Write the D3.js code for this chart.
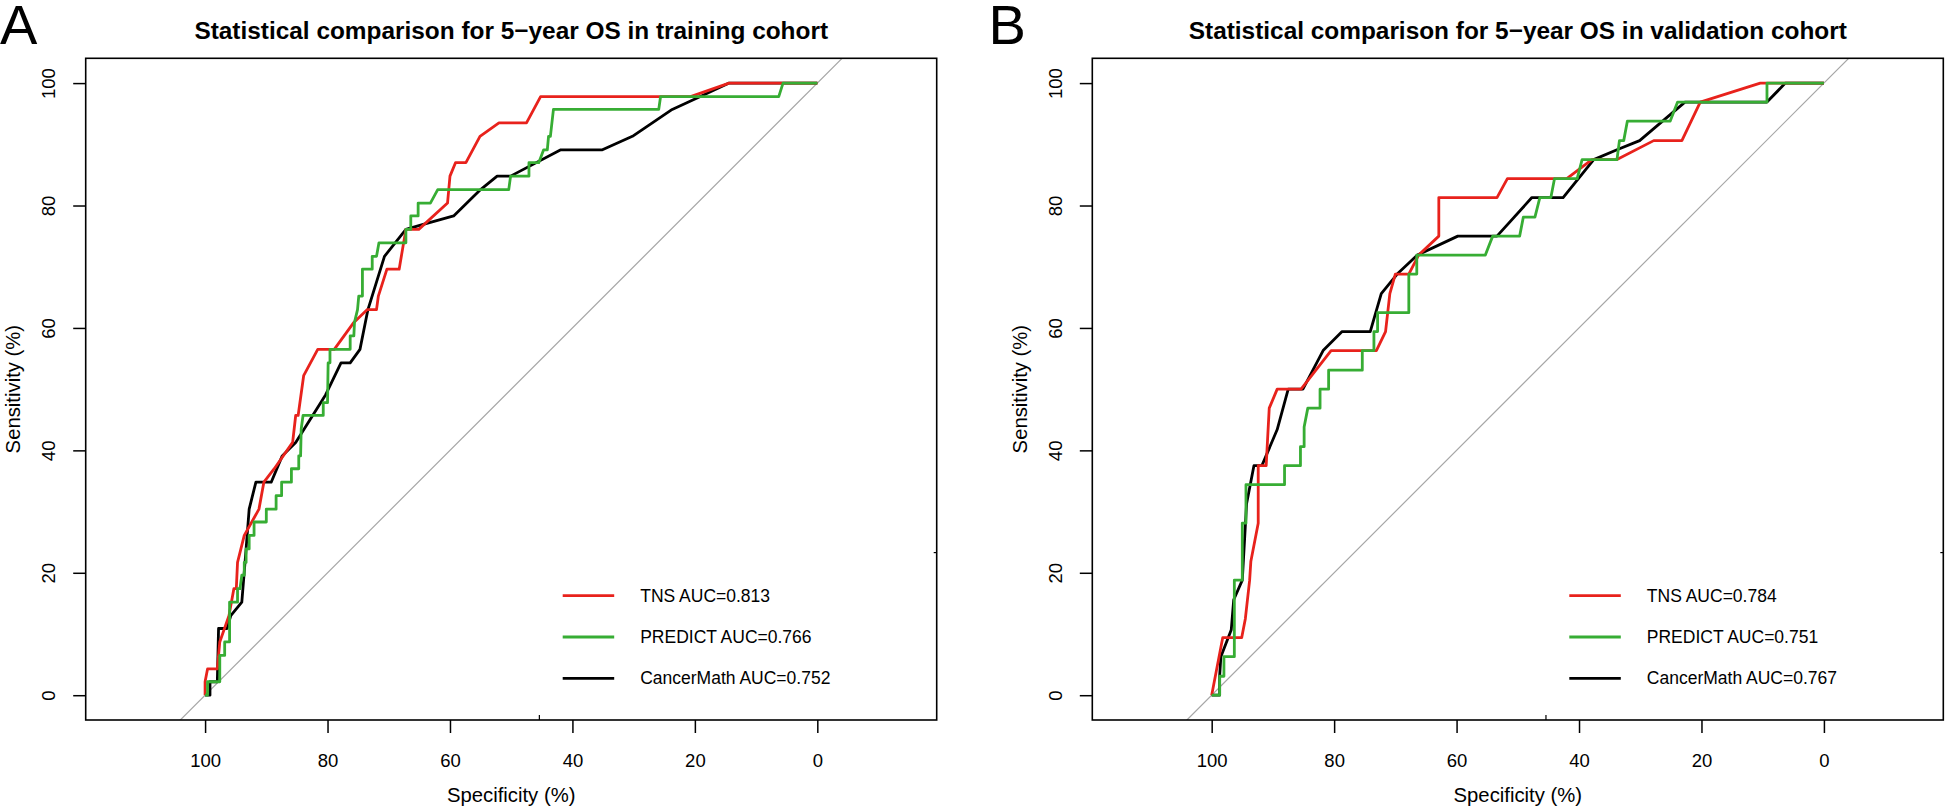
<!DOCTYPE html>
<html>
<head>
<meta charset="utf-8">
<script src="https://cdn.jsdelivr.net/npm/d3@7"></script>
<style>
  body { margin: 0; background: #fff; }
  svg { display: block; font-family: "Liberation Sans", Arial, sans-serif; }
</style>
</head>
<body>
<svg id="chart" width="1946" height="810"></svg>
<script>
// ROC points as [specificity %, sensitivity %]
const trainTNS = [[100,0],[100,2.2],[99.6,4.3],[98.0,4.3],[97.6,8.7],[96.1,13.0],[95.3,17.4],[94.9,17.4],
  [94.7,21.7],[93.6,26.1],[91.2,30.4],[90.4,34.8],[88.7,37.0],[85.7,41.3],[85.2,45.7],[84.8,45.7],
  [83.9,52.2],[81.6,56.5],[78.9,56.5],[75.7,60.9],[73.5,63.0],[72.0,63.0],[71.7,65.2],[70.3,69.6],
  [68.3,69.6],[67.2,76.1],[65.1,76.1],[60.4,80.4],[60.0,84.8],[59.1,87.0],[57.4,87.0],[55.1,91.3],
  [52.0,93.5],[47.5,93.5],[45.2,97.8],[20.7,97.8],[14.4,100],[0,100]];
const trainPREDICT = [[100,0],[99.6,0],[99.6,2.2],[97.6,2.2],[97.6,6.5],[96.8,6.5],[96.8,8.7],[96.0,8.7],
  [96.0,15.2],[94.7,15.2],[94.7,17.4],[94.3,17.4],[94.0,19.6],[93.6,19.6],[93.6,21.7],[93.3,21.7],
  [93.3,23.9],[92.8,23.9],[92.8,26.1],[92.0,26.1],[92.0,28.3],[90.0,28.3],[90.0,30.4],[88.4,30.4],
  [88.4,32.6],[87.5,32.6],[87.5,34.8],[85.9,34.8],[85.9,37.0],[84.7,37.0],[84.7,39.1],[84.4,39.1],
  [84.3,43.5],[84.0,45.7],[80.7,45.7],[80.7,47.8],[80.0,47.8],[79.9,54.3],[79.6,54.3],[79.6,56.5],
  [76.3,56.5],[76.3,58.7],[75.7,58.7],[75.6,60.9],[75.1,63.0],[74.9,65.2],[74.3,65.2],[74.3,69.6],
  [72.7,69.6],[72.7,71.7],[72.0,71.7],[71.6,73.9],[67.2,73.9],[67.2,76.1],[66.4,76.1],[66.4,78.3],
  [65.2,78.3],[65.2,80.4],[63.2,80.4],[62.0,82.6],[50.4,82.6],[50.1,84.8],[47.1,84.8],[47.1,87.0],
  [45.5,87.0],[44.7,89.1],[44.1,89.1],[43.9,91.3],[43.6,91.3],[43.1,95.7],[25.9,95.7],[25.6,97.8],
  [6.3,97.8],[5.6,100],[0,100]];
const trainCancerMath = [[100,0],[99.2,0],[99.2,2.2],[98.0,2.2],[97.8,10.9],[96.4,10.9],[95.8,13.0],
  [94.0,15.2],[93.3,23.9],[92.8,30.4],[91.7,34.8],[89.2,34.8],[87.4,39.1],[85.2,41.3],[80.3,49.1],
  [77.8,54.3],[76.3,54.3],[74.7,56.5],[73.4,63.0],[70.7,71.7],[67.2,76.1],[64.8,76.8],[59.4,78.3],
  [55.0,82.6],[52.3,84.8],[50.1,84.8],[41.9,89.1],[35.1,89.1],[30.2,91.3],[23.7,95.7],[19.1,97.8],
  [14.4,100],[0,100]];

const validTNS = [[100,0],[98.2,9.4],[95.1,9.4],[94.5,12.5],[93.8,18.8],[93.6,21.9],[92.4,28.1],
  [92.4,37.5],[91.1,37.5],[90.6,46.9],[89.3,50],[85.4,50],[80.5,56.3],[73.1,56.3],[71.6,59.4],
  [70.9,65.6],[70.0,68.8],[67.8,68.8],[66.2,71.9],[62.9,75],[62.9,81.3],[53.4,81.3],[51.7,84.4],
  [42.0,84.4],[37.9,87.5],[33.8,87.5],[27.8,90.6],[23.2,90.6],[20.2,96.9],[10.4,100],[0,100]];
const validPREDICT = [[100,0],[98.7,0],[98.7,3.1],[98.0,3.1],[98.0,6.3],[96.3,6.3],[96.3,18.8],
  [95.0,18.8],[95.0,28.1],[94.4,28.1],[94.4,34.4],[88.1,34.4],[88.1,37.5],[85.5,37.5],[85.5,40.6],
  [84.9,40.6],[84.9,43.8],[84.3,46.9],[82.3,46.9],[82.3,50],[80.9,50],[80.9,53.1],[75.4,53.1],
  [75.4,56.3],[73.5,56.3],[73.5,59.4],[72.9,59.4],[72.9,62.5],[67.8,62.5],[67.8,68.8],[66.5,68.8],
  [66.5,71.9],[55.3,71.9],[54.1,75],[49.7,75],[49.1,78.1],[47.2,78.1],[46.4,81.3],[44.6,81.3],
  [44.0,84.4],[40.3,84.4],[39.5,87.5],[33.8,87.5],[33.4,90.6],[32.7,90.6],[32.1,93.8],[25.1,93.8],
  [23.9,96.9],[9.3,96.9],[9.3,100],[0,100]];
const validCancerMath = [[100,0],[98.7,0],[98.7,3.1],[98.5,6.3],[96.8,10.7],[96.4,15.6],[95.0,18.8],
  [94.3,31.3],[93.1,37.5],[91.8,37.5],[89.3,43.4],[87.5,50],[85.1,50],[81.8,56.3],[78.7,59.4],
  [74.1,59.4],[72.3,65.6],[69.7,68.8],[66.4,71.9],[59.8,75],[53.4,75],[47.7,81.3],[42.6,81.3],
  [37.6,87.5],[33.8,89.1],[30.1,90.6],[22.7,96.9],[9.3,96.9],[6.3,100],[0,100]];

const xTicks = [100, 80, 60, 40, 20, 0];
const yTicks = [0, 20, 40, 60, 80, 100];
const modelNames = ["TNS", "PREDICT", "CancerMath"];
const modelColors = ["#e8221c", "#37ad34", "#000000"];
const aucTrain = ["0.813", "0.766", "0.752"];
const aucValid = ["0.784", "0.751", "0.767"];

const panels = [
  {letter: "A", letterX: 0, left: 85.7, title: "Statistical comparison for 5\u2212year OS in training cohort",
   curves: [trainTNS, trainPREDICT, trainCancerMath], auc: aucTrain},
  {letter: "B", letterX: 988.5, left: 1092.3, title: "Statistical comparison for 5\u2212year OS in validation cohort",
   curves: [validTNS, validPREDICT, validCancerMath], auc: aucValid}
];

const svg = d3.select("#chart");
const plotTop = 58.3, plotBottom = 720, boxW = 851;
const tickFont = 18.5, labFont = 20.3, legendFont = 17.5;

function drawPanel(p) {
  let x = d3.scaleLinear().domain([119.5, -19.5]).range([p.left, p.left + boxW]);
  let y = d3.scaleLinear().domain([-4.05, 104.05]).range([plotBottom, plotTop]);
  let g = svg.append("g");
  let cx = p.left + boxW / 2;

  g.append("text").attr("x", p.letterX).attr("y", 43.5)
    .attr("font-size", 56).text(p.letter);
  g.append("text").attr("x", cx).attr("y", 39).attr("text-anchor", "middle")
    .attr("font-size", 24.4).attr("font-weight", "bold").text(p.title);

  // chance diagonal, clipped to the box
  let clipId = "clip" + p.letter;
  g.append("clipPath").attr("id", clipId).append("rect")
    .attr("x", p.left).attr("y", plotTop).attr("width", boxW).attr("height", plotBottom - plotTop);
  let plot = g.append("g").attr("clip-path", `url(#${clipId})`);
  plot.append("line")
    .attr("x1", x(110)).attr("y1", y(-10)).attr("x2", x(-10)).attr("y2", y(110))
    .attr("stroke", "#a6a6a6").attr("stroke-width", 1.2);

  let line = d3.line().x(d => x(d[0])).y(d => y(d[1]));
  // black first, then red, then green on top
  [2, 0, 1].forEach(i => {
    plot.append("path").datum(p.curves[i])
      .attr("d", line).attr("fill", "none")
      .attr("stroke", modelColors[i]).attr("stroke-width", 2.8)
      .attr("stroke-linejoin", "round");
  });

  g.append("rect").attr("x", p.left).attr("y", plotTop).attr("width", boxW).attr("height", plotBottom - plotTop)
    .attr("fill", "none").attr("stroke", "#000").attr("stroke-width", 1.6);

  // x axis
  let xa = g.append("g").attr("transform", `translate(0,${plotBottom})`)
    .call(d3.axisBottom(x).tickValues(xTicks).tickSize(13).tickFormat(d3.format("d")));
  xa.select(".domain").remove();
  xa.selectAll("line").attr("stroke-width", 1.5);
  xa.selectAll("text").attr("font-size", tickFont).attr("font-family", null)
    .attr("y", 47).attr("dy", null);

  // y axis, labels parallel to the axis
  let ya = g.append("g").attr("transform", `translate(${p.left},0)`)
    .call(d3.axisLeft(y).tickValues(yTicks).tickSize(12.5).tickFormat(d3.format("d")));
  ya.select(".domain").remove();
  ya.selectAll("line").attr("stroke-width", 1.5);
  ya.selectAll("text").attr("font-size", tickFont).attr("font-family", null)
    .attr("x", null).attr("text-anchor", "middle")
    .attr("transform", "translate(-37,0) rotate(-90)").attr("y", 0).attr("dy", "0.36em");

  // small stray marks present in the original figure
  g.append("line").attr("x1", x(45.4)).attr("x2", x(45.4)).attr("y1", plotBottom).attr("y2", plotBottom - 5)
    .attr("stroke", "#000").attr("stroke-width", 1.2);
  g.append("line").attr("x1", p.left + boxW).attr("x2", p.left + boxW - 3).attr("y1", y(23.3)).attr("y2", y(23.3))
    .attr("stroke", "#000").attr("stroke-width", 1.2);

  g.append("text").attr("x", cx).attr("y", 802).attr("text-anchor", "middle")
    .attr("font-size", labFont).text("Specificity (%)");
  g.append("text").attr("transform", `translate(${p.left - 65.5},${(plotTop + plotBottom) / 2}) rotate(-90)`)
    .attr("text-anchor", "middle").attr("font-size", labFont).text("Sensitivity (%)");

  // legend
  let lg = g.append("g").attr("transform", `translate(${p.left + 477},595.7)`);
  modelNames.forEach((name, i) => {
    let row = lg.append("g").attr("transform", `translate(0,${i * 41.3})`);
    row.append("line").attr("x1", 0).attr("x2", 51.5).attr("stroke", modelColors[i]).attr("stroke-width", 2.8);
    row.append("text").attr("x", 77.5).attr("dy", "0.35em").attr("font-size", legendFont)
      .text(`${name} AUC=${p.auc[i]}`);
  });
}

panels.forEach(drawPanel);
</script>
</body>
</html>
